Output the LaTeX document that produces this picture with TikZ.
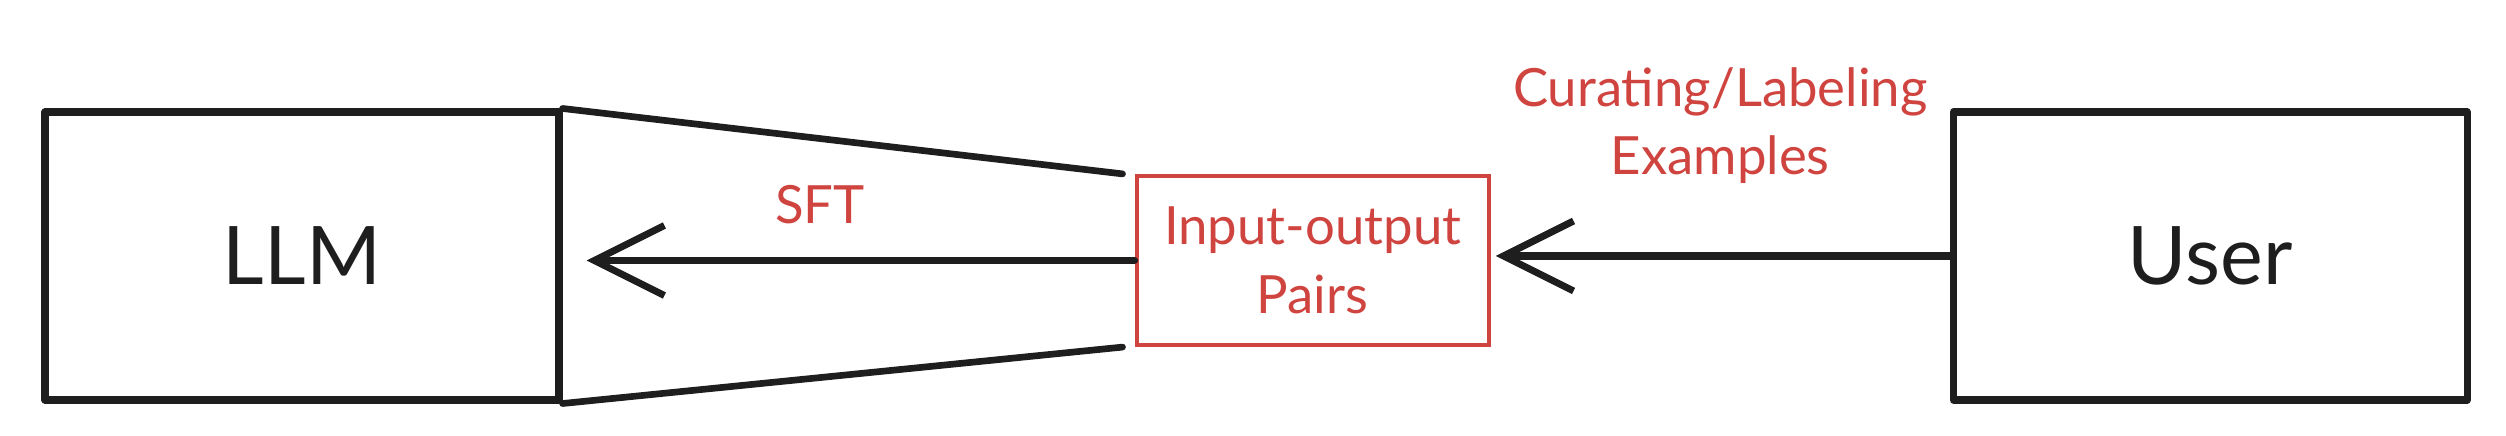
\documentclass[tikz,border=0pt]{standalone}
\usepackage{fontspec}
\setmainfont{Lato}
\usepackage{tikz}
\usetikzlibrary{arrows.meta, positioning}
\definecolor{inkBlack}{RGB}{30,30,30}
\definecolor{accentRed}{RGB}{208,68,64}
\tikzset{
  sk/box/.style={rectangle, draw=inkBlack, fill=white,
    minimum width=51.4mm, minimum height=28.8mm,
    font=\fontsize{23}{28}\selectfont\color{inkBlack}, align=center,
    line width=2pt, line join=round},
  sk/pair/.style={rectangle, draw=accentRed, fill=white,
    minimum width=35.2mm, minimum height=16.9mm,
    font=\fontsize{15}{19.6}\selectfont\color{accentRed}, align=center,
    line width=1.2pt, inner sep=2pt},
  sk/arr/.style={-{Straight Barb[length=7mm,width=7mm]}, line width=2pt,
    draw=inkBlack, line cap=round},
  sk/fan/.style={line width=1.9pt, draw=inkBlack, line cap=round},
  sk/lbl/.style={font=\fontsize{15}{19.6}\selectfont\color{accentRed},
    align=center, inner sep=1pt}
}
\begin{document}
\begin{tikzpicture}
  \useasboundingbox (0,0) rectangle (25.06,4.36);
  \node[sk/box] (llm) at (3.02,1.80) {LLM};
  \node[sk/pair, right=57.2mm of llm, yshift=-0.45mm] (io) {Input-output\\Pairs};
  \node[sk/box, right=45.9mm of io, yshift=0.45mm] (usr) {User};

  \draw[sk/fan] (llm.north east) -- ([xshift=-1.2mm]io.north west);
  \draw[sk/fan] (llm.south east) -- ([xshift=-1.2mm]io.south west);
  \draw[sk/arr, shorten >=2.4mm] (io.west) -- (io.west -| llm.east)
        node[sk/lbl, above=3mm, pos=0.55]{SFT};
  \draw[sk/arr, shorten >=0.5mm] (usr.west) -- (usr.west -| io.east)
        node[sk/lbl, above=6.5mm, midway]{Curating/Labeling\\Examples};
\end{tikzpicture}
\end{document}
